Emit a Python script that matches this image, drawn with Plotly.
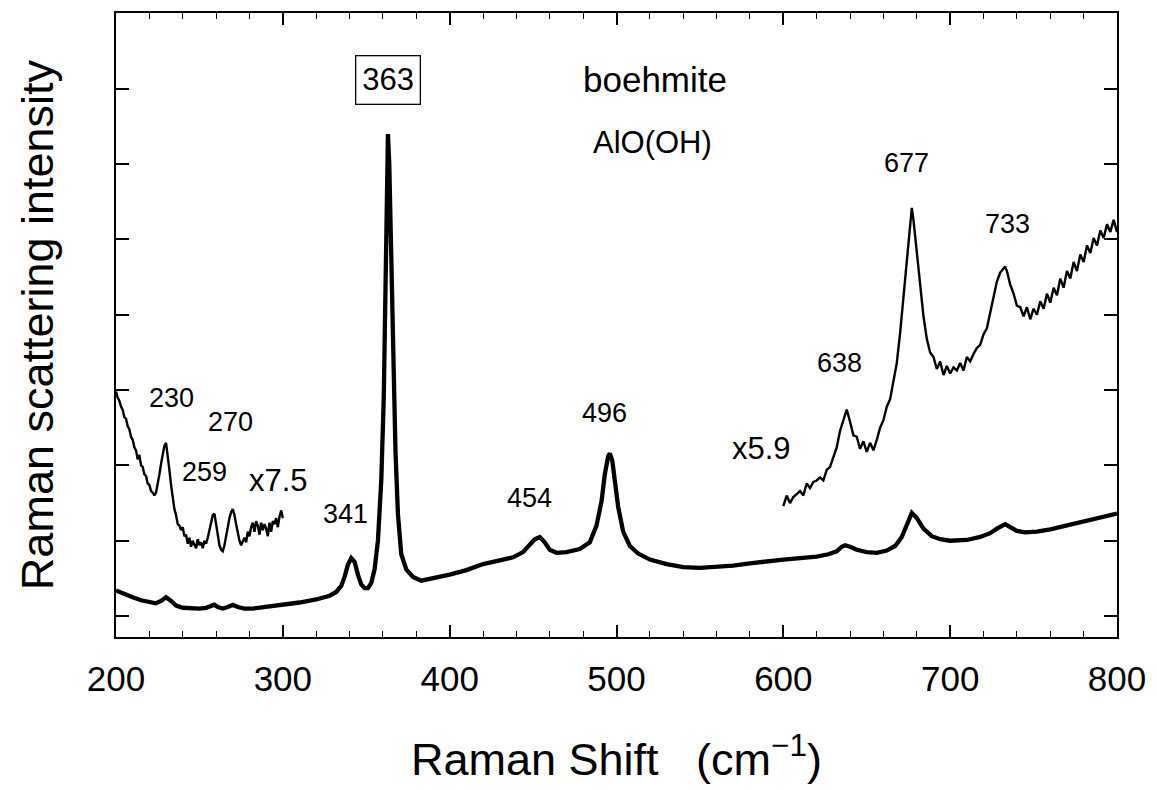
import plotly.graph_objects as go

# Full-range spectrum (unscaled), Raman shift in cm^-1 vs intensity (arb. units)
main_shift = [
    200, 205, 210, 215, 220, 224, 227, 230, 233, 236,
    240, 245, 250, 254, 257, 259, 261, 264, 267, 270,
    273, 277, 282, 290, 300, 310, 320, 328, 332, 335,
    337, 339, 341, 343, 345, 347, 349, 351, 353, 355,
    357, 359, 360.5, 361.5, 362.3, 363, 363.8, 364.8, 366, 367.5,
    369, 371, 374, 378, 383, 390, 400, 410, 420, 430,
    438, 444, 448, 451, 454, 457, 460, 464, 470, 478,
    484, 488, 491, 493, 495, 496, 497.5, 499, 501, 504,
    508, 513, 520, 530, 540, 550, 560, 570, 580, 590,
    600, 610, 620, 627, 632, 635, 637, 640, 644, 650,
    656, 662, 667, 671, 674, 677, 680, 684, 689, 694,
    700, 710, 718, 724, 728, 731, 733, 736, 740, 745,
    752, 760, 770, 780, 790, 800,
]
main_intensity = [
    0.34, 0.29, 0.25, 0.21, 0.18, 0.17, 0.20, 0.25, 0.20, 0.14,
    0.11, 0.10, 0.10, 0.11, 0.14, 0.15, 0.12, 0.10, 0.12, 0.15,
    0.12, 0.10, 0.10, 0.12, 0.15, 0.18, 0.22, 0.27, 0.32, 0.40,
    0.52, 0.68, 0.77, 0.72, 0.55, 0.42, 0.37, 0.37, 0.44, 0.62,
    1.00, 1.80, 2.90, 4.20, 5.60, 6.40, 6.00, 4.90, 3.50, 2.20,
    1.35, 0.82, 0.62, 0.52, 0.47, 0.50, 0.55, 0.61, 0.69, 0.74,
    0.78, 0.85, 0.95, 1.02, 1.05, 0.98, 0.88, 0.84, 0.85, 0.89,
    0.98, 1.20, 1.52, 1.88, 2.12, 2.16, 2.06, 1.80, 1.45, 1.12,
    0.93, 0.83, 0.75, 0.69, 0.65, 0.64, 0.65, 0.67, 0.70, 0.73,
    0.75, 0.77, 0.79, 0.82, 0.86, 0.92, 0.94, 0.92, 0.88, 0.85,
    0.84, 0.87, 0.93, 1.05, 1.22, 1.37, 1.30, 1.16, 1.06, 1.02,
    1.00, 1.01, 1.05, 1.10, 1.16, 1.20, 1.22, 1.18, 1.13, 1.11,
    1.12, 1.15, 1.20, 1.26, 1.31, 1.36,
]

# Low-frequency segment, magnified x7.5 (one point per cm^-1, 200..300)
low_shift = list(range(200, 301))
low_intensity_x75 = [
    2.98, 2.90, 2.86, 2.78, 2.74, 2.64, 2.62, 2.52, 2.48, 2.38,
    2.34, 2.24, 2.20, 2.08, 2.14, 2.00, 1.98, 1.88, 1.86, 1.76,
    1.74, 1.66, 1.64, 1.60, 1.64, 1.74, 1.88, 2.02, 2.16, 2.26,
    2.30, 2.14, 1.94, 1.74, 1.56, 1.42, 1.34, 1.22, 1.20, 1.14,
    1.18, 1.06, 1.08, 0.96, 1.04, 0.92, 1.00, 0.96, 0.90, 1.02,
    0.94, 0.98, 0.90, 1.00, 0.96, 1.04, 1.14, 1.26, 1.34, 1.36,
    1.22, 1.06, 0.94, 0.88, 0.86, 0.94, 1.04, 1.18, 1.30, 1.38,
    1.42, 1.34, 1.22, 1.10, 1.00, 0.94, 0.98, 1.04, 0.98, 1.12,
    1.06, 1.18, 1.24, 1.12, 1.26, 1.20, 1.08, 1.24, 1.14, 1.22,
    1.16, 1.06, 1.24, 1.12, 1.26, 1.22, 1.30, 1.18, 1.32, 1.40,
    1.30,
]

# High-frequency segment, magnified x5.9
high_shift = [
    600, 602, 604, 606, 608, 610, 612, 614, 616, 618,
    620, 622, 624, 626, 628, 630, 632, 634, 636, 638,
    640, 642, 644, 646, 648, 650, 652, 654, 656, 658,
    660, 662, 664, 666, 668, 670, 672, 674, 676, 677,
    678, 680, 682, 684, 686, 688, 690, 692, 694, 696,
    698, 700, 702, 704, 706, 708, 710, 712, 714, 716,
    718, 720, 722, 724, 726, 728, 730, 733, 734, 736,
    738, 740, 742, 744, 746, 748, 750, 752, 754, 756,
    758, 760, 762, 764, 766, 768, 770, 772, 774, 776,
    778, 780, 782, 784, 786, 788, 790, 792, 794, 796,
    798, 800,
]
high_intensity_x59 = [
    1.46, 1.60, 1.50, 1.58, 1.62, 1.66, 1.60, 1.76, 1.70, 1.78,
    1.80, 1.84, 1.80, 1.94, 1.98, 2.12, 2.24, 2.46, 2.60, 2.74,
    2.58, 2.40, 2.38, 2.22, 2.32, 2.18, 2.30, 2.20, 2.34, 2.50,
    2.60, 2.78, 2.88, 3.10, 3.36, 3.76, 4.26, 4.78, 5.28, 5.42,
    5.26, 4.86, 4.38, 3.98, 3.68, 3.50, 3.44, 3.28, 3.38, 3.20,
    3.32, 3.22, 3.30, 3.26, 3.36, 3.26, 3.44, 3.38, 3.48, 3.56,
    3.60, 3.74, 3.82, 4.02, 4.20, 4.44, 4.56, 4.64, 4.58, 4.40,
    4.28, 4.12, 4.10, 3.98, 4.10, 3.94, 4.08, 4.00, 4.18, 4.08,
    4.28, 4.16, 4.36, 4.26, 4.48, 4.36, 4.58, 4.48, 4.70, 4.58,
    4.80, 4.70, 4.92, 4.82, 5.02, 4.92, 5.12, 5.02, 5.20, 5.10,
    5.26, 5.10,
]

# Peak labels: text, x, y (data coordinates)
peak_text = ["230", "270", "259", "341", "454", "496", "638", "677", "733"]
peak_x = [233, 268.4, 252.8, 337.6, 448.1, 492.8, 633.7, 673.7, 734.6]
peak_y = [2.90, 2.57, 1.91, 1.36, 1.57, 2.69, 3.36, 6.01, 5.21]

FONT = "Liberation Sans, Arial, Helvetica, sans-serif"

fig = go.Figure()
fig.add_trace(go.Scatter(x=main_shift, y=main_intensity, mode="lines",
                         line=dict(color="black", width=4.3), showlegend=False))
fig.add_trace(go.Scatter(x=low_shift, y=low_intensity_x75, mode="lines",
                         line=dict(color="black", width=2.4), showlegend=False))
fig.add_trace(go.Scatter(x=high_shift, y=high_intensity_x59, mode="lines",
                         line=dict(color="black", width=2.4), showlegend=False))

annotations = []
for t, x, y in zip(peak_text, peak_x, peak_y):
    annotations.append(dict(x=x, y=y, text=t, showarrow=False,
                            font=dict(family=FONT, size=27, color="black")))
annotations += [
    dict(x=363, y=7.12, text="363", showarrow=False,
         font=dict(family=FONT, size=31, color="black"),
         bordercolor="black", borderwidth=1.3, borderpad=6),
    dict(x=523.3, y=7.12, text="boehmite", showarrow=False,
         font=dict(family=FONT, size=35, color="black")),
    dict(x=521.5, y=6.29, text="AlO(OH)", showarrow=False,
         font=dict(family=FONT, size=31, color="black")),
    dict(x=297.6, y=1.80, text="x7.5", showarrow=False,
         font=dict(family=FONT, size=31, color="black")),
    dict(x=587.2, y=2.22, text="x5.9", showarrow=False,
         font=dict(family=FONT, size=31, color="black")),
]

axis_common = dict(
    showline=True, linecolor="black", linewidth=2,
    mirror="ticks", ticks="inside", tickcolor="black",
    showgrid=False, zeroline=False,
)

fig.update_layout(
    width=1157, height=790,
    margin=dict(l=116, r=35, t=11, b=153),
    paper_bgcolor="white", plot_bgcolor="white",
    font=dict(family=FONT, color="black"),
    annotations=annotations,
    xaxis=dict(
        range=[200, 800], dtick=100, tick0=200,
        ticklen=12, tickwidth=1.5,
        minor=dict(dtick=20, ticks="inside", ticklen=6, tickwidth=1.2,
                   tickcolor="black", showgrid=False),
        tickfont=dict(family=FONT, size=35, color="black"),
        ticklabelstandoff=10,
        title=dict(text="Raman Shift\u00a0\u00a0\u00a0(cm<sup>\u22121</sup>)",
                   font=dict(family=FONT, size=45, color="black"), standoff=46),
        **axis_common,
    ),
    yaxis=dict(
        range=[-0.278, 8.006], tickvals=list(range(0, 8)),
        showticklabels=False, ticklen=13, tickwidth=1.5,
        title=dict(text="Raman scattering intensity",
                   font=dict(family=FONT, size=45, color="black"), standoff=46),
        **axis_common,
    ),
)

fig.write_html("out.html")
